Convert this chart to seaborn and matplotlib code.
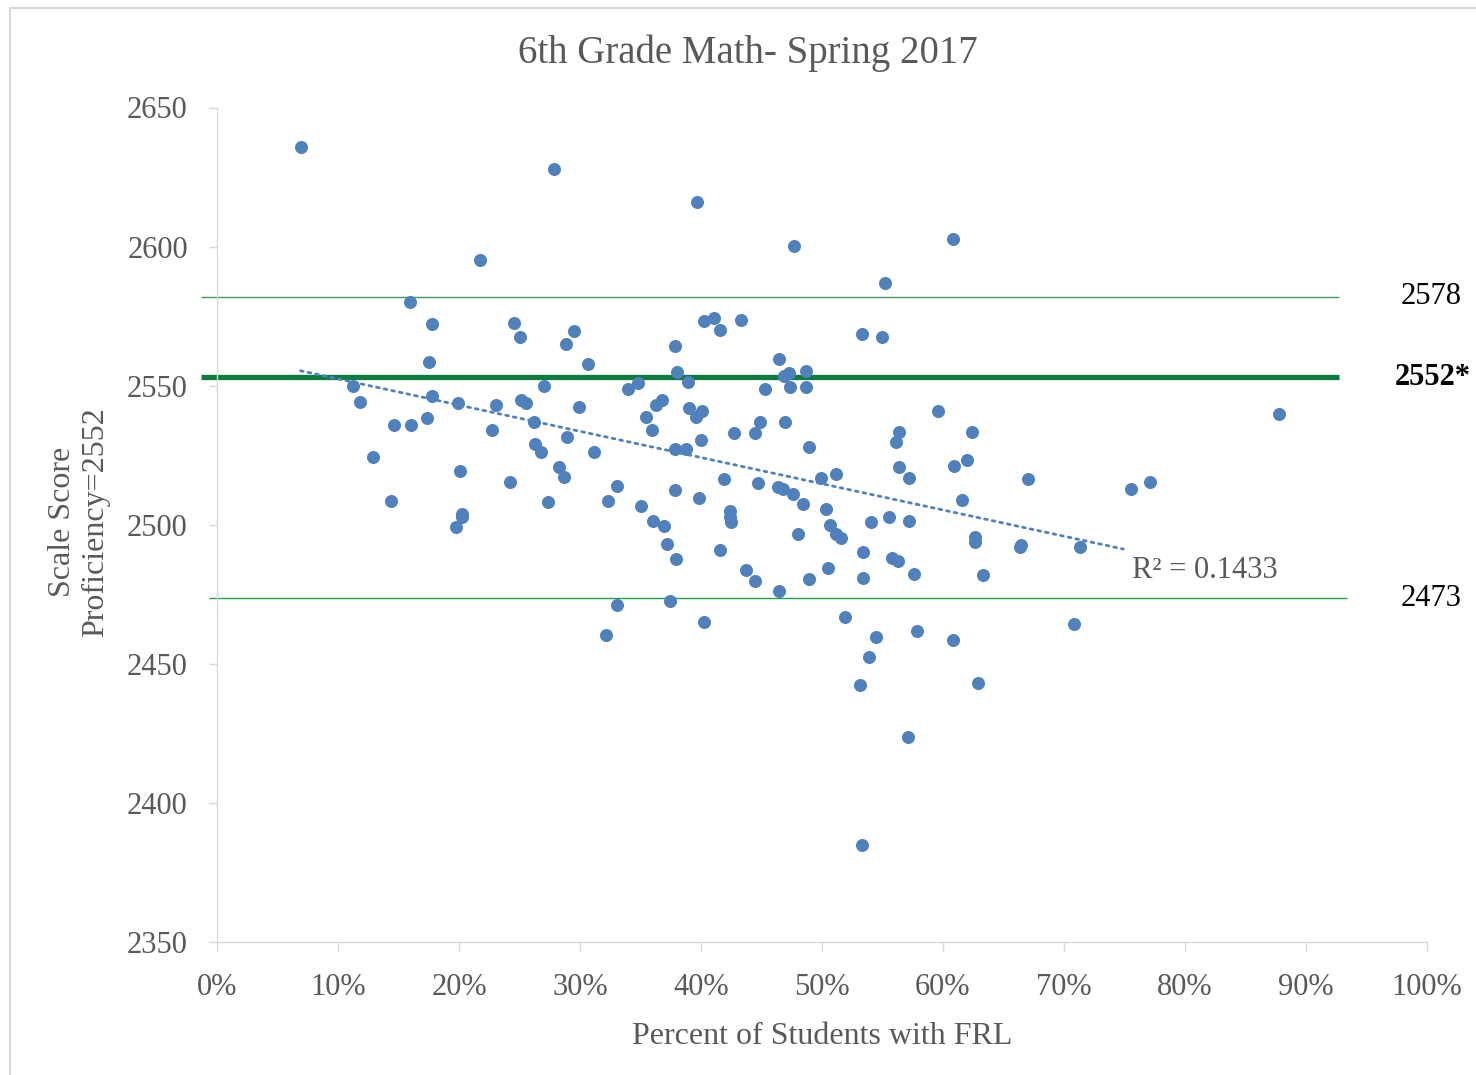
import numpy as np
import pandas as pd
import seaborn as sns
import matplotlib.pyplot as plt
from matplotlib.patches import Rectangle

# percent of students with FRL (x) and mean scale score (y), one point per school
frl_pct = [
    6.92, 27.85, 21.76, 15.95, 17.74, 24.52, 25.04, 29.50, 28.82, 30.63, 17.49, 11.21, 27.00,
    39.70, 47.69, 60.83, 55.23, 40.22, 41.07, 41.60, 43.30, 53.27, 54.99, 37.82, 46.42,
    38.02, 46.83, 47.27, 48.65, 33.97, 34.82, 38.93, 45.29, 47.33, 48.65,
    36.28, 36.78, 35.43, 35.92, 39.04, 39.61, 40.08, 39.97, 37.82, 38.76, 42.70, 44.44,
    44.88, 46.92, 48.90, 59.61, 56.36, 56.09, 62.37, 60.91, 62.01, 56.36, 57.16, 51.13,
    49.92, 61.60, 33.08, 32.31, 37.82, 39.81, 41.93, 44.69, 46.39, 46.80, 47.60, 48.46,
    50.36, 35.07, 36.03, 36.97, 37.16, 37.93, 42.40, 42.40, 42.48, 47.99, 50.69, 51.13,
    51.57, 54.05, 55.51, 57.21, 62.64, 62.64, 41.60, 53.41, 55.76, 56.31, 50.50, 43.72,
    44.49, 46.42, 48.90, 53.36, 57.63, 63.33, 33.03, 37.47, 32.15, 40.25, 51.90, 54.46,
    57.82, 60.83, 53.88, 53.11, 62.87, 57.13, 53.27,
    11.82, 17.80, 19.89, 23.06, 25.12, 25.51, 29.92, 14.66, 16.03, 17.33, 22.73, 26.23,
    28.90, 26.31, 26.78, 31.13, 12.87, 28.29, 28.70, 20.11, 24.19, 14.41, 27.36, 20.22,
    20.22, 19.72,
    87.79, 67.02, 75.51, 77.13, 66.36, 66.47, 71.30, 70.80,
]
scale_score = [
    2635.7, 2627.9, 2595.0, 2580.1, 2572.3, 2572.6, 2567.4, 2569.7, 2564.8, 2557.7, 2558.4, 2549.9, 2549.9,
    2616.0, 2600.3, 2602.9, 2586.9, 2573.4, 2574.4, 2570.0, 2573.7, 2568.6, 2567.4, 2564.4, 2559.6,
    2554.8, 2553.6, 2554.6, 2555.3, 2548.9, 2551.0, 2551.4, 2548.9, 2549.6, 2549.6,
    2543.2, 2544.8, 2538.8, 2534.2, 2541.8, 2538.8, 2540.8, 2530.4, 2527.1, 2527.4, 2533.1, 2533.1,
    2536.9, 2537.1, 2527.8, 2540.8, 2533.4, 2529.7, 2533.4, 2521.1, 2523.4, 2520.7, 2516.7, 2518.4,
    2516.7, 2508.9, 2514.1, 2508.5, 2512.6, 2509.6, 2516.3, 2515.1, 2513.7, 2513.0, 2511.0, 2507.3,
    2505.8, 2506.6, 2501.3, 2499.4, 2493.1, 2487.6, 2504.9, 2502.9, 2501.0, 2496.7, 2499.9, 2496.8,
    2495.4, 2501.0, 2502.9, 2501.3, 2495.7, 2493.8, 2490.9, 2490.1, 2488.0, 2486.8, 2484.6, 2483.7,
    2479.8, 2476.3, 2480.4, 2480.8, 2482.3, 2481.9, 2471.2, 2472.6, 2460.3, 2464.9, 2467.0, 2459.7,
    2461.8, 2458.5, 2452.5, 2442.5, 2443.2, 2423.8, 2384.9,
    2544.3, 2546.2, 2543.6, 2543.2, 2544.8, 2543.8, 2542.4, 2535.7, 2536.0, 2538.3, 2533.9, 2537.1,
    2531.6, 2529.1, 2526.0, 2526.0, 2524.2, 2520.7, 2517.0, 2519.3, 2515.2, 2508.5, 2508.0, 2503.8,
    2502.7, 2499.2,
    2539.7, 2516.3, 2513.0, 2515.5, 2492.0, 2492.7, 2492.0, 2464.4,
]

# reference lines drawn on the chart and their labels
ref_levels = [2582, 2553, 2473.5]
ref_labels = ['2578', '2552*', '2473']
trend_range = [6.9, 74.9]

df = pd.DataFrame({'frl': frl_pct, 'score': scale_score})

sns.set_theme(style='white')
plt.rcParams['font.family'] = ['Liberation Serif', 'DejaVu Serif']

grey = '#595959'
fig = plt.figure(figsize=(14.76, 10.75), dpi=100)
ax = fig.add_axes([217 / 1476, 1 - 942 / 1075, 1210 / 1476, 834.5 / 1075])

sns.scatterplot(data=df, x='frl', y='score', ax=ax, color='#4F81BD', s=88,
                linewidth=0, zorder=3)

# linear trendline
slope, icpt = np.polyfit(df['frl'], df['score'], 1)
tx = np.array(trend_range)
ax.plot(tx, slope * tx + icpt, color='#4F81BD', lw=2.0, ls=(0, (1, 1.8)),
        dash_capstyle='round', zorder=2)
ax.text(75.6, 2483.7, 'R² = 0.1433', color=grey, fontsize=22, va='center', ha='left')

# proficiency bands
ax.hlines(ref_levels[0], -1.32, 92.7, color='#3f9a5a', lw=1.0, clip_on=False, zorder=1)
ax.hlines(ref_levels[1], -1.32, 92.7, color='#0b7d3e', lw=3.8, clip_on=False, zorder=1)
ax.hlines(ref_levels[2], -0.66, 93.4, color='#22a04a', lw=1.0, clip_on=False, zorder=1)
for lvl, lab in zip(ref_levels, ref_labels):
    bold = '*' in lab
    ax.text(100.5 if bold else 100.3, lvl, lab, color='black', fontsize=22,
            ha='center', va='center', fontweight='bold' if bold else 'normal',
            clip_on=False)

ax.set_xlim(0, 100)
ax.set_ylim(2350, 2650)
ax.set_xticks(np.arange(0, 101, 10))
ax.set_xticklabels([f'{v}%' for v in range(0, 101, 10)])
ax.set_yticks(np.arange(2350, 2651, 50))
ax.set_xlabel('')
ax.set_ylabel('')

for side in ['top', 'right']:
    ax.spines[side].set_visible(False)
for side in ['left', 'bottom']:
    ax.spines[side].set_color('#d9d9d9')
    ax.spines[side].set_linewidth(1.0)
ax.tick_params(axis='y', left=True, length=6, width=1, color='#d9d9d9', pad=15,
               labelsize=22, labelcolor=grey)
ax.tick_params(axis='x', bottom=True, length=7, width=1, color='#d9d9d9', pad=15,
               labelsize=22, labelcolor=grey)

fig.text(747.5 / 1476, 1 - 53 / 1075, '6th Grade Math- Spring 2017', color=grey,
         fontsize=28, ha='center', va='center')
fig.text(822 / 1476, 1 - 1036 / 1075, 'Percent of Students with FRL', color=grey,
         fontsize=23, ha='center', va='center')
fig.text(79 / 1476, 1 - 522 / 1075, 'Scale Score\nProficiency=2552', color=grey,
         fontsize=23, ha='center', va='center', rotation=90, multialignment='center',
         linespacing=1.15)

# chart border
fig.patches.append(Rectangle((10 / 1476, -0.02), 1.05, 1 - 8 / 1075 + 0.02,
                             transform=fig.transFigure, fill=False,
                             edgecolor='#d9d9d9', lw=1.5))

fig.savefig('out.png', dpi=100)
